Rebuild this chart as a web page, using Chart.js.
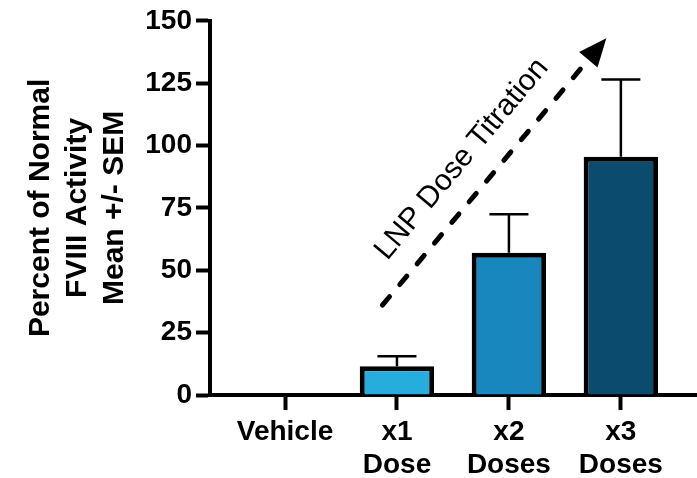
<!DOCTYPE html>
<html>
<head>
<meta charset="utf-8">
<script src="https://cdn.jsdelivr.net/npm/chart.js@4/dist/chart.umd.min.js"></script>
<style>
  html, body { margin: 0; padding: 0; background: #ffffff; }
  #wrap { width: 697px; height: 478px; }
</style>
</head>
<body>
<div id="wrap"><canvas id="c" width="697" height="478"></canvas></div>
<script>
// Groups, group means and SEM (percent of normal FVIII activity)
const categories = [['Vehicle'], ['x1', 'Dose'], ['x2', 'Doses'], ['x3', 'Doses']];
const means = [0.5, 11.5, 57, 95.5];
const sem = [0, 4, 15.5, 31];
const yTicks = [0, 25, 50, 75, 100, 125, 150];
const yTitle = ['Percent of Normal', 'FVIII Activity', 'Mean +/- SEM'];
const trendLabel = 'LNP Dose Titration';

const barColors = ['#000000', '#27ACDE', '#1787BE', '#0A4B6E'];
const FONT = '"Liberation Sans", Arial, Helvetica, sans-serif';

// Upper SEM whiskers drawn through the chart scales
const errorBars = {
  id: 'errorBars',
  afterDatasetsDraw(chart, args, o) {
    const { ctx, scales: { x, y } } = chart;
    ctx.save();
    ctx.strokeStyle = '#000';
    ctx.lineWidth = o.lineWidth;
    ctx.lineCap = 'butt';
    means.forEach((m, i) => {
      if (!sem[i]) return;
      const px = x.getPixelForValue(i);
      const base = y.getPixelForValue(m);
      const top = y.getPixelForValue(m + sem[i]);
      ctx.beginPath();
      ctx.moveTo(px, base);
      ctx.lineTo(px, top);
      ctx.moveTo(px - o.capWidth / 2, top);
      ctx.lineTo(px + o.capWidth / 2, top);
      ctx.stroke();
    });
    ctx.restore();
  }
};

// Dashed trend arrow with its caption, positioned in data units
const trendArrow = {
  id: 'trendArrow',
  afterDatasetsDraw(chart, args, o) {
    const { ctx, scales: { x, y } } = chart;
    const x0 = x.getPixelForValue(o.from[0]), y0 = y.getPixelForValue(o.from[1]);
    const x1 = x.getPixelForValue(o.to[0]), y1 = y.getPixelForValue(o.to[1]);
    const ang = Math.atan2(y1 - y0, x1 - x0);
    const ux = Math.cos(ang), uy = Math.sin(ang);
    const bx = x1 - ux * o.headLength, by = y1 - uy * o.headLength;
    ctx.save();
    ctx.strokeStyle = '#000';
    ctx.fillStyle = '#000';
    ctx.lineWidth = o.lineWidth;
    ctx.lineCap = 'round';
    ctx.setLineDash(o.dash);
    ctx.beginPath();
    ctx.moveTo(x0, y0);
    ctx.lineTo(bx, by);
    ctx.stroke();
    ctx.setLineDash([]);
    ctx.beginPath();
    ctx.moveTo(x1, y1);
    ctx.lineTo(bx - uy * o.headWidth / 2, by + ux * o.headWidth / 2);
    ctx.lineTo(bx + uy * o.headWidth / 2, by - ux * o.headWidth / 2);
    ctx.closePath();
    ctx.fill();

    const tx = x.getPixelForValue(o.labelAt[0]), ty = y.getPixelForValue(o.labelAt[1]);
    ctx.translate(tx, ty);
    ctx.rotate(ang);
    ctx.font = o.font;
    ctx.textAlign = 'center';
    ctx.textBaseline = 'middle';
    ctx.fillText(trendLabel, 0, 0);
    ctx.restore();
  }
};

new Chart(document.getElementById('c'), {
  type: 'bar',
  data: {
    datasets: [{
      data: means.map((m, i) => ({ x: i, y: m })),
      backgroundColor: barColors,
      borderColor: '#000000',
      borderWidth: 5,
      borderSkipped: 'start',
      categoryPercentage: 1,
      barPercentage: 0.665
    }]
  },
  plugins: [errorBars, trendArrow],
  options: {
    responsive: false,
    animation: false,
    devicePixelRatio: 1,
    layout: { padding: { top: 20, right: 0, bottom: 0, left: 0 } },
    plugins: {
      legend: { display: false },
      tooltip: { enabled: false },
      errorBars: { lineWidth: 2.5, capWidth: 39 },
      trendArrow: {
        from: [0.87, 36], to: [2.87, 143],
        labelAt: [1.58, 94.5],
        lineWidth: 5, dash: [11, 16],
        headLength: 28, headWidth: 24,
        font: '30px ' + FONT
      }
    },
    scales: {
      x: {
        type: 'linear',
        min: -0.67,
        max: 3.68,
        offset: false,
        z: 1,
        afterBuildTicks: (axis) => { axis.ticks = categories.map((c, i) => ({ value: i })); },
        afterFit: (axis) => { axis.height = 83; },
        border: { display: true, color: '#000', width: 4 },
        grid: {
          display: true, offset: false, drawOnChartArea: false, drawTicks: true,
          tickLength: 15, tickWidth: 4, tickColor: '#000'
        },
        ticks: {
          autoSkip: false,
          maxRotation: 0,
          padding: 6,
          color: '#000',
          font: { family: FONT, size: 28, weight: 'bold', lineHeight: 1.18 },
          callback: (v) => categories[v] || ''
        }
      },
      y: {
        min: 0,
        max: 150,
        afterBuildTicks: (axis) => { axis.ticks = yTicks.map(v => ({ value: v })); },
        afterFit: (axis) => { axis.width = 210; },
        border: { display: true, color: '#000', width: 4 },
        grid: {
          display: true, drawOnChartArea: false, drawTicks: true,
          tickLength: 14, tickWidth: 4, tickColor: '#000'
        },
        ticks: {
          padding: 4,
          color: '#000',
          font: { family: FONT, size: 28, weight: 'bold' }
        },
        title: {
          display: true,
          text: yTitle,
          color: '#000',
          padding: { top: 22, bottom: 0 },
          font: { family: FONT, size: 30, weight: 'bold', lineHeight: 1.233 }
        }
      }
    }
  }
});
</script>
</body>
</html>
